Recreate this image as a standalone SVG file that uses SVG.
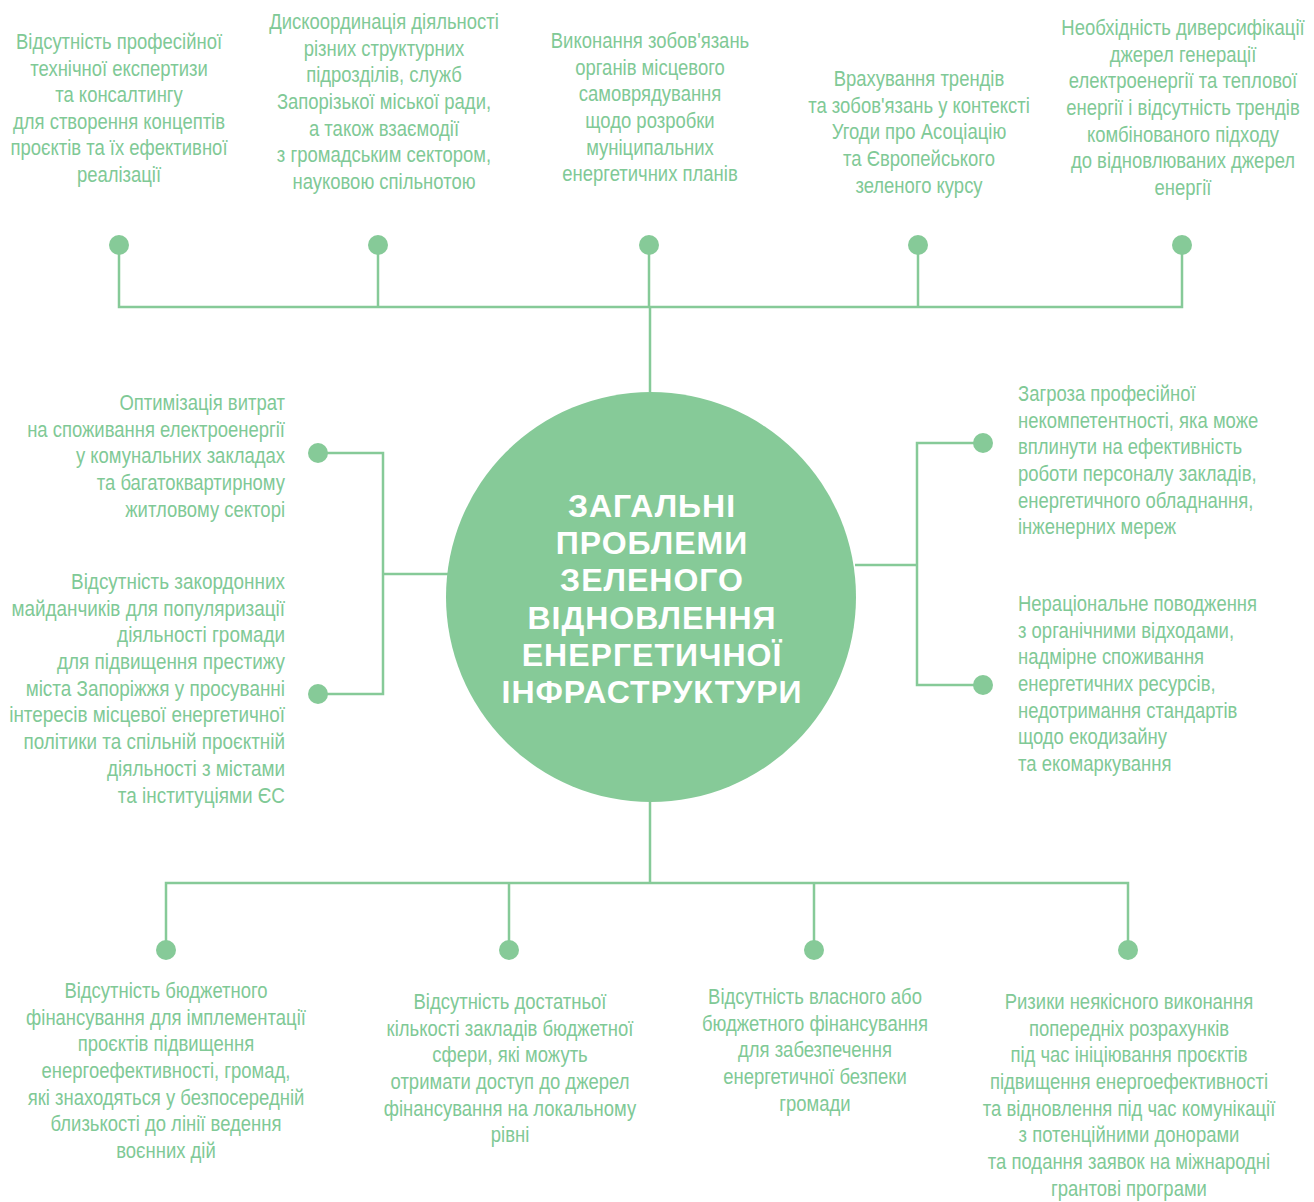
<svg xmlns="http://www.w3.org/2000/svg" width="1314" height="1202" viewBox="0 0 1314 1202">
<style>
.t{font-family:"Liberation Sans",Arial,sans-serif;font-size:22px;fill:#80c996;}
.c{text-anchor:middle}
.r{text-anchor:end}
.l{text-anchor:start}
.ttl{font-family:"Liberation Sans",Arial,sans-serif;font-weight:bold;font-size:32px;letter-spacing:1px;fill:#ffffff;text-anchor:middle}
.ln{stroke:#86ca98;stroke-width:2.5;fill:none}
.dot{fill:#86ca98}
</style>
<rect width="1314" height="1202" fill="#ffffff"/>
<g id="connectors">
<path class="ln" d="M119 245V307H1182V245M378 245V307M649 245V307M918 245V307M650 307V392"/>
<path class="ln" d="M318 453H383V694H318M383 574H448"/>
<path class="ln" d="M983 443H917V685H983M917 565H855"/>
<path class="ln" d="M650 801V883M166 950V883H1128V950M509 883V950M814 883V950"/>
</g>
<g id="center">
<circle cx="651" cy="597" r="205" fill="#86ca98"/>
<text class="ttl" x="652" y="517"><tspan x="652">ЗАГАЛЬНІ</tspan><tspan x="652" dy="37.2">ПРОБЛЕМИ</tspan><tspan x="652" dy="37.2">ЗЕЛЕНОГО</tspan><tspan x="652" dy="37.2">ВІДНОВЛЕННЯ</tspan><tspan x="652" dy="37.2">ЕНЕРГЕТИЧНОЇ</tspan><tspan x="652" dy="37.2">ІНФРАСТРУКТУРИ</tspan></text>
</g>
<g id="n1">
<circle class="dot" cx="119" cy="245" r="10"/>
<text class="t c" transform="translate(119,0) scale(0.84,1)" y="49"><tspan x="0">Відсутність професійної</tspan><tspan x="0" dy="26.6">технічної експертизи</tspan><tspan x="0" dy="26.6">та консалтингу</tspan><tspan x="0" dy="26.6">для створення концептів</tspan><tspan x="0" dy="26.6">проєктів та їх ефективної</tspan><tspan x="0" dy="26.6">реалізації</tspan></text>
</g>
<g id="n2">
<circle class="dot" cx="378" cy="245" r="10"/>
<text class="t c" transform="translate(384,0) scale(0.84,1)" y="29"><tspan x="0">Дискоординація діяльності</tspan><tspan x="0" dy="26.7">різних структурних</tspan><tspan x="0" dy="26.7">підрозділів, служб</tspan><tspan x="0" dy="26.7">Запорізької міської ради,</tspan><tspan x="0" dy="26.7">а також взаємодії</tspan><tspan x="0" dy="26.7">з громадським сектором,</tspan><tspan x="0" dy="26.7">науковою спільнотою</tspan></text>
</g>
<g id="n3">
<circle class="dot" cx="649" cy="245" r="10"/>
<text class="t c" transform="translate(650,0) scale(0.84,1)" y="48"><tspan x="0">Виконання зобов'язань</tspan><tspan x="0" dy="26.7">органів місцевого</tspan><tspan x="0" dy="26.7">самоврядування</tspan><tspan x="0" dy="26.7">щодо розробки</tspan><tspan x="0" dy="26.7">муніципальних</tspan><tspan x="0" dy="26.7">енергетичних планів</tspan></text>
</g>
<g id="n4">
<circle class="dot" cx="918" cy="245" r="10"/>
<text class="t c" transform="translate(919,0) scale(0.84,1)" y="86"><tspan x="0">Врахування трендів</tspan><tspan x="0" dy="26.7">та зобов'язань у контексті</tspan><tspan x="0" dy="26.7">Угоди про Асоціацію</tspan><tspan x="0" dy="26.7">та Європейського</tspan><tspan x="0" dy="26.7">зеленого курсу</tspan></text>
</g>
<g id="n5">
<circle class="dot" cx="1182" cy="245" r="10"/>
<text class="t c" transform="translate(1183,0) scale(0.84,1)" y="35"><tspan x="0">Необхідність диверсифікації</tspan><tspan x="0" dy="26.7">джерел генерації</tspan><tspan x="0" dy="26.7">електроенергії та теплової</tspan><tspan x="0" dy="26.7">енергії і відсутність трендів</tspan><tspan x="0" dy="26.7">комбінованого підходу</tspan><tspan x="0" dy="26.7">до відновлюваних джерел</tspan><tspan x="0" dy="26.7">енергії</tspan></text>
</g>
<g id="n6">
<circle class="dot" cx="318" cy="453" r="10"/>
<text class="t r" transform="translate(285,0) scale(0.84,1)" y="410"><tspan x="0">Оптимізація витрат</tspan><tspan x="0" dy="26.7">на споживання електроенергії</tspan><tspan x="0" dy="26.7">у комунальних закладах</tspan><tspan x="0" dy="26.7">та багатоквартирному</tspan><tspan x="0" dy="26.7">житловому секторі</tspan></text>
</g>
<g id="n7">
<circle class="dot" cx="318" cy="694" r="10"/>
<text class="t r" transform="translate(285,0) scale(0.86,1)" y="589"><tspan x="0">Відсутність закордонних</tspan><tspan x="0" dy="26.7">майданчиків для популяризації</tspan><tspan x="0" dy="26.7">діяльності громади</tspan><tspan x="0" dy="26.7">для підвищення престижу</tspan><tspan x="0" dy="26.7">міста Запоріжжя у просуванні</tspan><tspan x="0" dy="26.7">інтересів місцевої енергетичної</tspan><tspan x="0" dy="26.7">політики та спільній проєктній</tspan><tspan x="0" dy="26.7">діяльності з містами</tspan><tspan x="0" dy="26.7">та інституціями ЄС</tspan></text>
</g>
<g id="n8">
<circle class="dot" cx="983" cy="443" r="10"/>
<text class="t l" transform="translate(1018,0) scale(0.84,1)" y="401"><tspan x="0">Загроза професійної</tspan><tspan x="0" dy="26.7">некомпетентності, яка може</tspan><tspan x="0" dy="26.7">вплинути на ефективність</tspan><tspan x="0" dy="26.7">роботи персоналу закладів,</tspan><tspan x="0" dy="26.7">енергетичного обладнання,</tspan><tspan x="0" dy="26.7">інженерних мереж</tspan></text>
</g>
<g id="n9">
<circle class="dot" cx="983" cy="685" r="10"/>
<text class="t l" transform="translate(1018,0) scale(0.84,1)" y="611"><tspan x="0">Нераціональне поводження</tspan><tspan x="0" dy="26.7">з органічними відходами,</tspan><tspan x="0" dy="26.7">надмірне споживання</tspan><tspan x="0" dy="26.7">енергетичних ресурсів,</tspan><tspan x="0" dy="26.7">недотримання стандартів</tspan><tspan x="0" dy="26.7">щодо екодизайну</tspan><tspan x="0" dy="26.7">та екомаркування</tspan></text>
</g>
<g id="n10">
<circle class="dot" cx="166" cy="950" r="10"/>
<text class="t c" transform="translate(166,0) scale(0.84,1)" y="998"><tspan x="0">Відсутність бюджетного</tspan><tspan x="0" dy="26.7">фінансування для імплементації</tspan><tspan x="0" dy="26.7">проєктів підвищення</tspan><tspan x="0" dy="26.7">енергоефективності, громад,</tspan><tspan x="0" dy="26.7">які знаходяться у безпосередній</tspan><tspan x="0" dy="26.7">близькості до лінії ведення</tspan><tspan x="0" dy="26.7">воєнних дій</tspan></text>
</g>
<g id="n11">
<circle class="dot" cx="509" cy="950" r="10"/>
<text class="t c" transform="translate(510,0) scale(0.84,1)" y="1009"><tspan x="0">Відсутність достатньої</tspan><tspan x="0" dy="26.7">кількості закладів бюджетної</tspan><tspan x="0" dy="26.7">сфери, які можуть</tspan><tspan x="0" dy="26.7">отримати доступ до джерел</tspan><tspan x="0" dy="26.7">фінансування на локальному</tspan><tspan x="0" dy="26.7">рівні</tspan></text>
</g>
<g id="n12">
<circle class="dot" cx="814" cy="950" r="10"/>
<text class="t c" transform="translate(815,0) scale(0.84,1)" y="1004"><tspan x="0">Відсутність власного або</tspan><tspan x="0" dy="26.7">бюджетного фінансування</tspan><tspan x="0" dy="26.7">для забезпечення</tspan><tspan x="0" dy="26.7">енергетичної безпеки</tspan><tspan x="0" dy="26.7">громади</tspan></text>
</g>
<g id="n13">
<circle class="dot" cx="1128" cy="950" r="10"/>
<text class="t c" transform="translate(1129,0) scale(0.84,1)" y="1009"><tspan x="0">Ризики неякісного виконання</tspan><tspan x="0" dy="26.7">попередніх розрахунків</tspan><tspan x="0" dy="26.7">під час ініціювання проєктів</tspan><tspan x="0" dy="26.7">підвищення енергоефективності</tspan><tspan x="0" dy="26.7">та відновлення під час комунікації</tspan><tspan x="0" dy="26.7">з потенційними донорами</tspan><tspan x="0" dy="26.7">та подання заявок на міжнародні</tspan><tspan x="0" dy="26.7">грантові програми</tspan></text>
</g>
</svg>
